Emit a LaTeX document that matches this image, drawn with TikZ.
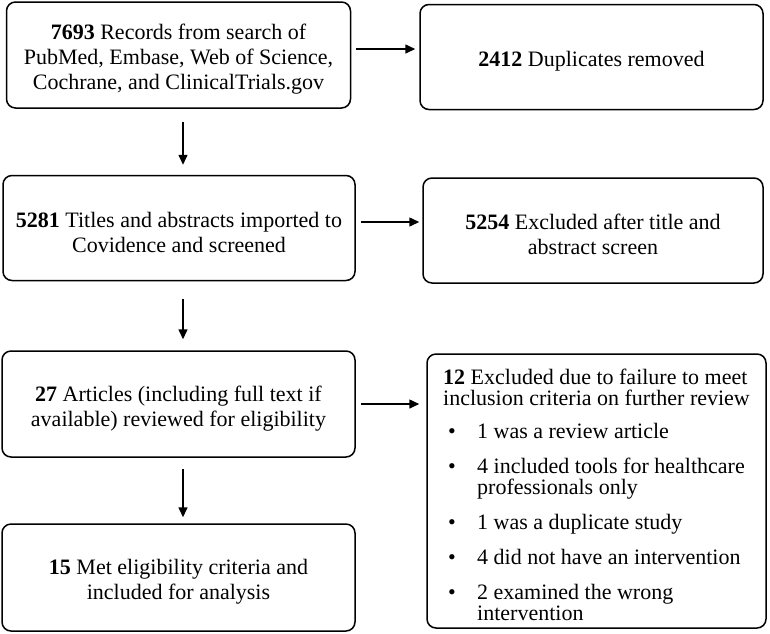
\documentclass[tikz,border=0pt]{standalone}
\usepackage{fontspec}
\setmainfont{Liberation Serif}
\usetikzlibrary{arrows.meta}

% bullet line in the exclusion box
\newcommand{\bitem}[1]{\makebox[34pt][l]{\hspace{5pt}\textbullet}#1}
\newcommand{\bcont}[1]{\makebox[34pt][l]{}#1}
% strut that lowers the text a little
\newcommand{\tstrut}{\rule{0pt}{24pt}}

\begin{document}
\begin{tikzpicture}[x=1pt,y=-1pt,
    box/.style={draw, line width=1.5pt, rounded corners=9pt, align=center,
        font=\fontsize{22}{25}\selectfont, inner sep=4pt},
    arr/.style={line width=1.5pt, -{Triangle[length=10pt,width=9pt]}}]
        \useasboundingbox (0,0) rectangle (770,633);

        % Left column
        \node[box, minimum width=344pt, minimum height=106pt] (rec) at (178.5,55)
            {\tstrut\textbf{7693} Records from search of\\PubMed, Embase, Web of Science,\\Cochrane, and ClinicalTrials.gov};
        \node[box, minimum width=352pt, minimum height=105pt] (scr) at (179,228)
            {\tstrut\textbf{5281} Titles and abstracts imported to\\Covidence and screened};
        \node[box, minimum width=353pt, minimum height=106pt] (full) at (178.5,404)
            {\tstrut\textbf{27} Articles (including full text if\\available) reviewed for eligibility};
        \node[box, minimum width=353pt, minimum height=107pt] (incl) at (178.5,577.5)
            {\tstrut\textbf{15} Met eligibility criteria and\\included for analysis};

        % Right column
        \node[box, minimum width=343pt, minimum height=105pt] (dup) at (591.5,57)
            {\tstrut\textbf{2412} Duplicates removed};
        \node[box, minimum width=340pt, minimum height=105pt] (exc1) at (593,230.5)
            {\tstrut\textbf{5254} Excluded after title and\\abstract screen};
        \node[box, minimum width=339pt, minimum height=274pt, align=left,
            font=\fontsize{22}{21}\selectfont] (exc2) at (596.5,491)
            {\tstrut\textbf{12} Excluded due to failure to meet\\
             inclusion criteria on further review\\[12pt]
             \bitem{1 was a review article}\\[14pt]
             \bitem{4 included tools for healthcare}\\
             \bcont{professionals only}\\[14pt]
             \bitem{1 was a duplicate study}\\[14pt]
             \bitem{4 did not have an intervention}\\[14pt]
             \bitem{2 examined the wrong}\\
             \bcont{intervention}};

        % Arrows down
        \draw[arr, shorten <=13pt, shorten >=10pt] ([xshift=4.5pt]rec.south) -- ([xshift=4.5pt]rec.south |- scr.north);
        \draw[arr, shorten <=18pt, shorten >=11pt] ([xshift=4pt]scr.south) -- ([xshift=4pt]scr.south |- full.north);
        \draw[arr, shorten <=11pt, shorten >=6pt] ([xshift=4.5pt]full.south) -- ([xshift=4.5pt]full.south |- incl.north);

        % Arrows across
        \draw[arr, shorten <=5pt, shorten >=4pt] ([yshift=6pt]rec.east) -- ([yshift=6pt]rec.east -| dup.west);
        \draw[arr, shorten <=5pt, shorten >=3pt] ([yshift=6pt]scr.east) -- ([yshift=6pt]scr.east -| exc1.west);
        \draw[arr, shorten <=5pt, shorten >=7pt] (full.east) -- (full.east -| exc2.west);
    \end{tikzpicture}
\end{document}
